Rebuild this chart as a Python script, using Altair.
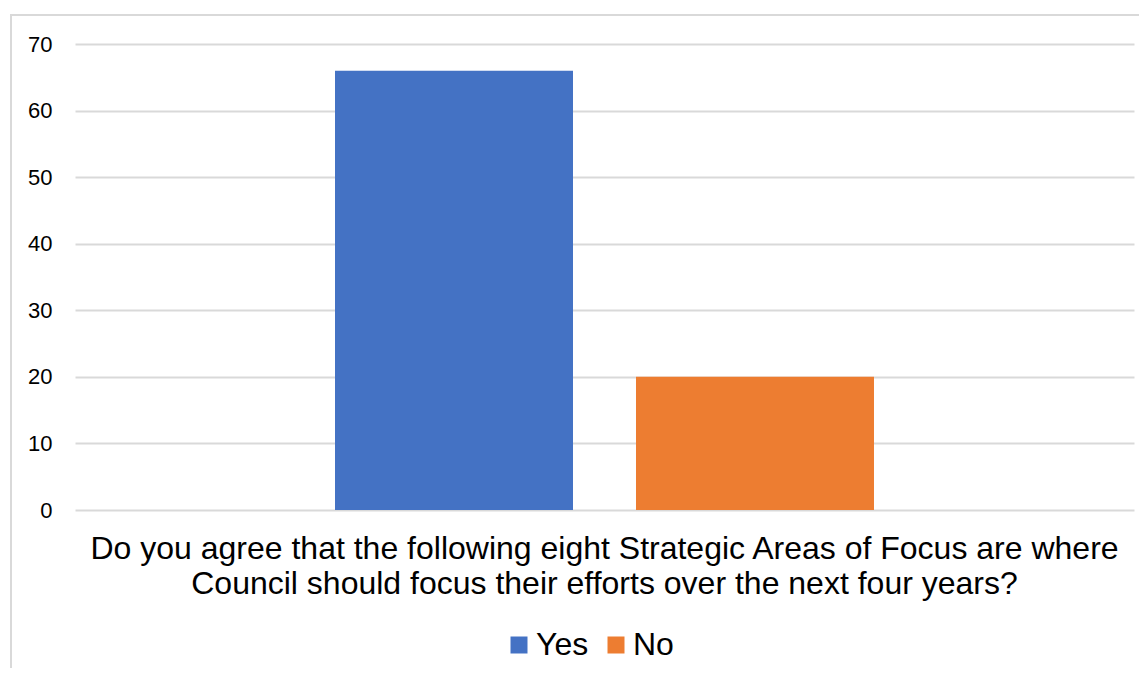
import altair as alt
import pandas as pd

question = "Do you agree that the following eight Strategic Areas of Focus are where|Council should focus their efforts over the next four years?"
series = ["Yes", "No"]
values = [66, 20]
colors = ["#4472C4", "#ED7D31"]

df = pd.DataFrame({"question": [question] * 2, "series": series, "value": values})

FONT = "Liberation Sans"

border = alt.Chart(pd.DataFrame({"a": [0]})).mark_rect(
    fill=None, stroke="#d9d9d9", strokeWidth=2
).encode(
    x=alt.value(-64), x2=alt.value(1090), y=alt.value(-29), y2=alt.value(660)
)

bars = alt.Chart(df).mark_bar().encode(
    x=alt.X("question:N", title=None,
            scale=alt.Scale(paddingInner=0, paddingOuter=0.4824),
            axis=alt.Axis(labelAngle=0, labelExpr="split(datum.label, '|')",
                          labelFontSize=32, labelFont=FONT, labelColor="#000000",
                          labelPadding=23, labelLineHeight=35, labelBaseline="top",
                          ticks=False, domain=False, labelLimit=2000)),
    xOffset=alt.XOffset("series:N", sort=series,
                        scale=alt.Scale(paddingInner=0.2093, paddingOuter=0)),
    y=alt.Y("value:Q", title=None,
            scale=alt.Scale(domain=[0, 70]),
            axis=alt.Axis(values=[0, 10, 20, 30, 40, 50, 60, 70], ticks=False, domain=False,
                          labelFontSize=22, labelFont=FONT, labelColor="#000000",
                          labelPadding=23, gridColor="#d9d9d9", gridWidth=2)),
    color=alt.Color("series:N", sort=series,
                    scale=alt.Scale(domain=series, range=colors),
                    legend=alt.Legend(title=None, orient="none", direction="horizontal",
                                      legendX=428, legendY=585,
                                      symbolType="square", symbolSize=289,
                                      symbolStrokeWidth=0, symbolOpacity=1,
                                      labelFontSize=32, labelFont=FONT, labelColor="#000000",
                                      labelOffset=1, columnPadding=11, padding=0)),
)

chart = alt.layer(border, bars).properties(
    width=1059, height=466,
    autosize=alt.AutoSizeParams(type="none"),
    padding={"left": 67, "top": 36, "right": 5, "bottom": 158},
).configure_view(stroke=None).configure_axis(grid=True).configure_axisX(grid=False)

chart.save("out.html", embed_options={"renderer": "svg", "actions": False})
